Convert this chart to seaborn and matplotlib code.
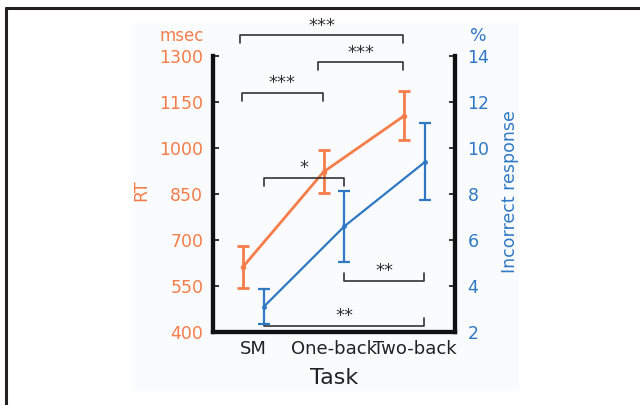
import matplotlib
matplotlib.use("Agg")
import matplotlib.pyplot as plt
from matplotlib.patches import Rectangle
import numpy as np
import pandas as pd
import seaborn as sns

# values
tasks = ["SM", "One-back", "Two-back"]
rt_mean = [612, 922, 1105]
rt_err = [67, 70, 80]
err_mean = [3.1, 6.6, 9.4]
err_err = [0.75, 1.55, 1.68]

# significance brackets: (x1, x2, y on RT axis, tip direction, label)
brackets = [
    (0.84, 2.86, 1368, -1, "***"),
    (1.80, 2.86, 1280, -1, "***"),
    (0.86, 1.86, 1179, -1, "***"),
    (1.13, 2.12, 902, -1, "*"),
    (2.12, 3.12, 566, 1, "**"),
    (1.13, 3.12, 420, 1, "**"),
]

orange = "#F47D4A"
blue = "#2F78C4"
dark = "#333333"

sns.set_style("white")
plt.rcParams["font.family"] = ["DejaVu Sans"]

fig = plt.figure(figsize=(6.4, 4.05), dpi=100)
fig.patches.append(Rectangle((133 / 640, 1 - 390 / 405), 385 / 640, 367 / 405,
                             transform=fig.transFigure, color="#FAFBFD", zorder=-5))
# outer frame lines (top and left)
fig.add_artist(plt.Line2D([6 / 640, 1], [1 - 8 / 405, 1 - 8 / 405], color="#231F20", lw=2.2))
fig.add_artist(plt.Line2D([6 / 640, 6 / 640], [0, 1 - 8 / 405], color="#231F20", lw=2.2))

ax = fig.add_axes([213 / 640, 1 - 332 / 405, 242 / 640, 276 / 405])
ax.patch.set_alpha(0)
ax2 = ax.twinx()
ax2.patch.set_alpha(0)

x = np.arange(1, len(tasks) + 1)
df = pd.DataFrame({"task": tasks, "x": x, "rt": rt_mean, "err": err_mean})

sns.lineplot(data=df, x=x - 0.13, y="rt", ax=ax, color=orange, lw=2, marker="o",
             markersize=4, markeredgewidth=0)
ax.errorbar(x - 0.13, rt_mean, yerr=rt_err, fmt="none", ecolor=orange, elinewidth=2,
            capsize=4, capthick=2)
sns.lineplot(data=df, x=x + 0.13, y="err", ax=ax2, color=blue, lw=1.6, marker="o",
             markersize=3.5, markeredgewidth=0)
ax2.errorbar(x + 0.13, err_mean, yerr=err_err, fmt="none", ecolor=blue, elinewidth=1.6,
             capsize=4, capthick=1.6)

ax.set_xlim(0.5, 3.5)
ax.set_ylim(400, 1300)
ax2.set_ylim(2, 14)
ax.set_yticks(np.arange(400, 1301, 150))
ax2.set_yticks(np.arange(2, 15, 2))

ax.set_xticks([1.5, 2.5])
ax.set_xticklabels([])
ax.set_xticks(x, minor=True)
ax.set_xticklabels(tasks, minor=True, fontsize=13)
ax.tick_params(axis="x", which="major", direction="out", length=5, width=1.5, color="#222222")
ax.tick_params(axis="x", which="minor", length=0, pad=6, labelcolor="#222222")
ax.tick_params(axis="y", direction="in", length=4, width=1.3, color="#222222",
               labelcolor=orange, labelsize=12.5, pad=7)
ax2.tick_params(axis="y", direction="in", length=4, width=1.3, color="#222222",
                labelcolor=blue, labelsize=12.5, pad=9)
for a in (ax, ax2):
    for s in ("left", "right", "bottom"):
        a.spines[s].set_linewidth(3)
        a.spines[s].set_color("#111111")
    a.spines["top"].set_visible(False)
    a.set_ylabel("")
ax.set_xlabel("Task", fontsize=16, labelpad=7, color="#222222")

fig.text(182 / 640, 1 - 36 / 405, "msec", color=orange, fontsize=12, ha="center", va="center")
fig.text(478 / 640, 1 - 36 / 405, "%", color=blue, fontsize=12.5, ha="center", va="center")
fig.text(141 / 640, 1 - 190 / 405, "RT", color=orange, fontsize=12.5, rotation=90,
         ha="center", va="center")
fig.text(510 / 640, 1 - 192 / 405, "Incorrect response", color=blue, fontsize=12.5,
         rotation=90, ha="center", va="center")

for x1, x2, y, d, lab in brackets:
    tip = y + 26 * d
    ax.plot([x1, x1, x2, x2], [tip, y, y, tip], color=dark, lw=1.2, clip_on=False)
    ax.text((x1 + x2) / 2, y + 2, lab, ha="center", va="bottom", fontsize=13,
            color=dark, clip_on=False)

fig.savefig("out.png", dpi=100)
